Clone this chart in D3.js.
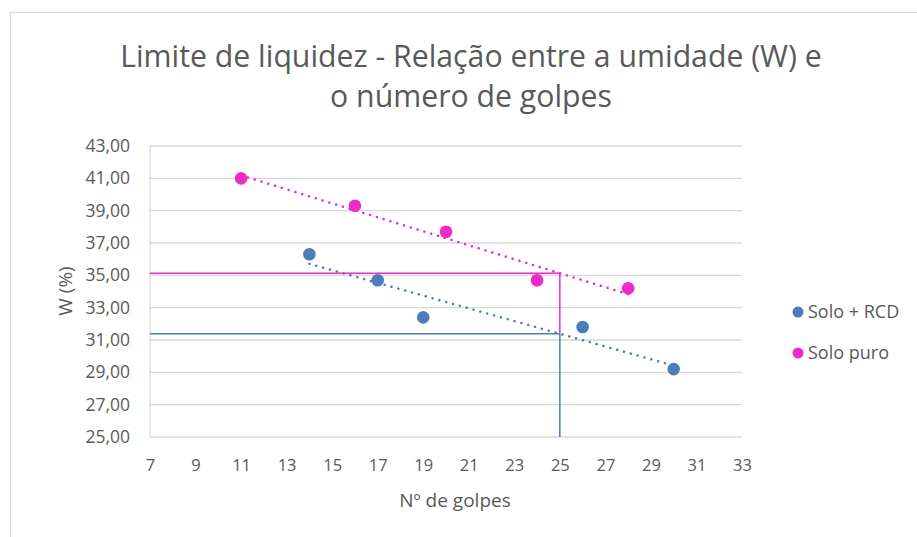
<!DOCTYPE html>
<html>
<head>
<meta charset="utf-8">
<title>Limite de liquidez</title>
<script src="https://d3js.org/d3.v7.min.js"></script>
<style>
  body { margin: 0; background: #fff; }
  svg text { font-family: "Open Sans", sans-serif; fill: #595959; }
</style>
</head>
<body>
<svg id="chart" width="917" height="537"></svg>
<script>
// data
var golpesRCD = [14, 17, 19, 26, 30];
var umidadeRCD = [36.3, 34.7, 32.4, 31.8, 29.2];
var golpesPuro = [11, 16, 20, 24, 28];
var umidadePuro = [41.0, 39.3, 37.7, 34.7, 34.2];
var seriesNames = ["Solo + RCD", "Solo puro"];
var seriesColors = ["#4a7ebb", "#ee2ac8"];
var xTicks = [7, 9, 11, 13, 15, 17, 19, 21, 23, 25, 27, 29, 31, 33];
var yTicks = [25, 27, 29, 31, 33, 35, 37, 39, 41, 43];
var golpesRef = 25;

var svg = d3.select("#chart");
var m = { left: 150, right: 742, top: 146, bottom: 437 };

var x = d3.scaleLinear().domain([7, 33]).range([m.left, m.right]);
var y = d3.scaleLinear().domain([25, 43]).range([m.bottom, m.top]);

// chart border (cut off at right/bottom like the screenshot)
svg.append("rect")
  .attr("x", 10.5).attr("y", 12.5).attr("width", 1000).attr("height", 1000)
  .attr("fill", "none").attr("stroke", "#d9d9d9").attr("stroke-width", 1.2);

// gridlines
svg.append("g").selectAll("line").data(yTicks).enter().append("line")
  .attr("x1", m.left).attr("x2", m.right)
  .attr("y1", function(d){ return y(d) }).attr("y2", function(d){ return y(d) })
  .attr("stroke", "#d9d9d9").attr("stroke-width", 1.3);
svg.append("line")
  .attr("x1", m.left).attr("x2", m.left).attr("y1", m.top).attr("y2", m.bottom)
  .attr("stroke", "#d9d9d9").attr("stroke-width", 1.3);

// axes
var xAxis = svg.append("g").attr("transform", "translate(0," + m.bottom + ")")
  .call(d3.axisBottom(x).tickValues(xTicks).tickSize(0).tickPadding(22));
var yAxis = svg.append("g").attr("transform", "translate(" + m.left + ",0)")
  .call(d3.axisLeft(y).tickValues(yTicks).tickSize(0).tickPadding(20)
    .tickFormat(function(d){ return d3.format(".2f")(d).replace(".", ",") }));
xAxis.select(".domain").remove();
yAxis.select(".domain").remove();
xAxis.selectAll("text").style("font-size", "16.5px").attr("fill", "#595959");
yAxis.selectAll("text").style("font-size", "17.5px").attr("fill", "#595959");

// linear trend (Excel-style)
function fit(xs, ys) {
  var mx = d3.mean(xs), my = d3.mean(ys), sxy = 0, sxx = 0;
  xs.forEach(function(v, i){ sxy += (v - mx) * (ys[i] - my); sxx += (v - mx) * (v - mx); });
  var b = sxy / sxx;
  return function(v){ return my + b * (v - mx) };
}
var fitRCD = fit(golpesRCD, umidadeRCD);
var fitPuro = fit(golpesPuro, umidadePuro);
var wRCD = fitRCD(golpesRef), wPuro = fitPuro(golpesRef);

// reference lines at 25 golpes
svg.append("line").attr("x1", x(7)).attr("x2", x(golpesRef))
  .attr("y1", y(wPuro)).attr("y2", y(wPuro))
  .attr("stroke", seriesColors[1]).attr("stroke-width", 1.5);
svg.append("line").attr("x1", x(golpesRef)).attr("x2", x(golpesRef))
  .attr("y1", y(wPuro)).attr("y2", y(wRCD))
  .attr("stroke", seriesColors[1]).attr("stroke-width", 1.5);
svg.append("line").attr("x1", x(7)).attr("x2", x(golpesRef))
  .attr("y1", y(wRCD)).attr("y2", y(wRCD))
  .attr("stroke", seriesColors[0]).attr("stroke-width", 1.5);
svg.append("line").attr("x1", x(golpesRef)).attr("x2", x(golpesRef))
  .attr("y1", y(wRCD)).attr("y2", y(25))
  .attr("stroke", seriesColors[0]).attr("stroke-width", 1.5);

// trend lines
var trends = [
  { f: fitRCD, xs: golpesRCD, c: seriesColors[0] },
  { f: fitPuro, xs: golpesPuro, c: seriesColors[1] }
];
trends.forEach(function(t){
  var x0 = d3.min(t.xs), x1 = d3.max(t.xs);
  svg.append("line")
    .attr("x1", x(x0)).attr("y1", y(t.f(x0)))
    .attr("x2", x(x1)).attr("y2", y(t.f(x1)))
    .attr("stroke", t.c).attr("stroke-width", 2.5)
    .attr("stroke-dasharray", "0.1 7").attr("stroke-linecap", "round");
});

// points
var pts = [
  { xs: golpesRCD, ys: umidadeRCD, c: seriesColors[0] },
  { xs: golpesPuro, ys: umidadePuro, c: seriesColors[1] }
];
pts.forEach(function(s){
  svg.append("g").selectAll("circle").data(s.xs).enter().append("circle")
    .attr("cx", function(d){ return x(d) })
    .attr("cy", function(d, i){ return y(s.ys[i]) })
    .attr("r", 6.3).attr("fill", s.c);
});

// titles
var title = svg.append("text").attr("text-anchor", "middle").style("font-size", "25px");
title.append("tspan").attr("x", 471).attr("y", 67).text("Limite de liquidez - Relação entre a umidade (W) e");
title.append("tspan").attr("x", 471).attr("y", 107).text("o número de golpes");
var tw = title.select("tspan").node().getComputedTextLength();
title.style("font-size", (25 * 702 / tw) + "px");

svg.append("text").attr("x", 455).attr("y", 507).attr("text-anchor", "middle")
  .style("font-size", "19px").text("Nº  de golpes");
svg.append("text").attr("transform", "translate(72,291) rotate(-90)")
  .attr("text-anchor", "middle").style("font-size", "19px").text("W (%)");

// legend
seriesNames.forEach(function(n, i){
  var ly = 312 + i * 41;
  svg.append("circle").attr("cx", 798).attr("cy", ly).attr("r", 5.5).attr("fill", seriesColors[i]);
  svg.append("text").attr("x", 808).attr("y", ly + 6).style("font-size", "18px").text(n);
});
</script>
</body>
</html>
